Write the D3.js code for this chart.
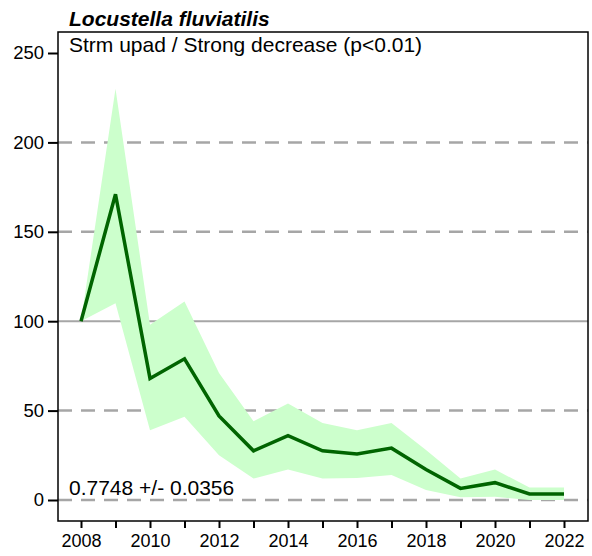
<!DOCTYPE html>
<html>
<head>
<meta charset="utf-8">
<script src="https://cdn.jsdelivr.net/npm/d3@7"></script>
<style>
  body { margin: 0; background: #fff; }
  svg { font-family: "Liberation Sans", Arial, sans-serif; }
</style>
</head>
<body>
<svg id="chart" width="592" height="556"></svg>
<script>
(function(){
const width = 592;
const height = 556;

// --- Data ---
const years = [2008, 2009, 2010, 2011, 2012, 2013, 2014, 2015, 2016, 2017, 2018, 2019, 2020, 2021, 2022];
const index = [100, 171, 68, 79, 47, 27.5, 36, 27.5, 25.7, 29, 17, 6.5, 9.7, 3.4, 3.4];
const upper = [100, 230, 98, 111, 71, 44, 54, 43, 39, 43, 28, 12, 17, 7, 7];
const lower = [100, 110, 39, 46.6, 25, 12, 17, 12, 12.3, 14, 5.6, 1.5, 1.8, 0, 0];
const yTicks = [0, 50, 100, 150, 200, 250];
const dashedLevels = [0, 50, 150, 200];
const solidLevels = [100];
const xLabelYears = [2008, 2010, 2012, 2014, 2016, 2018, 2020, 2022];

const title = "Locustella fluviatilis";
const subtitle = "Strm upad / Strong decrease (p<0.01)";
const slopeText = "0.7748 +/- 0.0356";

const rows = years.map((y, i) => ({ year: y, v: index[i], lo: lower[i], hi: upper[i] }));

const box = { left: 58, right: 588, top: 32, bottom: 521 };

const x = d3.scaleLinear().domain([2008, 2022]).range([81, 564]);
const y = d3.scaleLinear().domain([0, 250]).range([500, 53]);

const svg = d3.select("#chart");

// --- Gridlines ---
svg.append("g")
  .selectAll("line")
  .data(dashedLevels)
  .enter()
  .append("line")
  .attr("x1", box.left).attr("x2", box.right)
  .attr("y1", d => y(d)).attr("y2", d => y(d))
  .attr("stroke", "#a6a6a6")
  .attr("stroke-width", 2.5)
  .attr("stroke-dasharray", "14,9");

svg.append("g")
  .selectAll("line")
  .data(solidLevels)
  .enter()
  .append("line")
  .attr("x1", box.left).attr("x2", box.right)
  .attr("y1", d => y(d)).attr("y2", d => y(d))
  .attr("stroke", "#a6a6a6")
  .attr("stroke-width", 2);

// --- Confidence band ---
svg.append("path")
  .datum(rows)
  .attr("fill", "#ccffcc")
  .attr("d", d3.area()
    .x(d => x(d.year))
    .y0(d => y(d.lo))
    .y1(d => y(d.hi)));

// --- Index line ---
svg.append("path")
  .datum(rows)
  .attr("fill", "none")
  .attr("stroke", "#006400")
  .attr("stroke-width", 3.5)
  .attr("d", d3.line()
    .x(d => x(d.year))
    .y(d => y(d.v)));

// --- Frame ---
svg.append("rect")
  .attr("x", box.left).attr("y", box.top)
  .attr("width", box.right - box.left)
  .attr("height", box.bottom - box.top)
  .attr("fill", "none")
  .attr("stroke", "#000")
  .attr("stroke-width", 1.5);

// --- Axes ---
const yAxis = svg.append("g")
  .attr("transform", `translate(${box.left},0)`)
  .call(d3.axisLeft(y).tickValues(yTicks).tickSize(10).tickPadding(4));
yAxis.select(".domain").remove();
yAxis.selectAll(".tick line").attr("stroke", "#000").attr("stroke-width", 2);
yAxis.selectAll("text").attr("font-size", 18.5).attr("fill", "#000")
  .attr("font-family", "'Liberation Sans', Arial, sans-serif");

const xAxis = svg.append("g")
  .attr("transform", `translate(0,${box.bottom})`)
  .call(d3.axisBottom(x).tickValues(years).tickSize(7).tickPadding(6)
    .tickFormat(d => xLabelYears.includes(d) ? String(d) : ""));
xAxis.select(".domain").remove();
xAxis.selectAll(".tick line").attr("stroke", "#000").attr("stroke-width", 2);
xAxis.selectAll("text").attr("font-size", 18).attr("fill", "#000")
  .attr("font-family", "'Liberation Sans', Arial, sans-serif");

// --- Texts ---
svg.append("text")
  .attr("x", 69).attr("y", 26)
  .attr("font-size", 21)
  .attr("font-weight", "bold")
  .attr("font-style", "italic")
  .text(title);

svg.append("text")
  .attr("x", 69).attr("y", 52)
  .attr("font-size", 21)
  .text(subtitle);

svg.append("text")
  .attr("x", 69).attr("y", 495)
  .attr("font-size", 21)
  .text(slopeText);
})();
</script>
</body>
</html>
